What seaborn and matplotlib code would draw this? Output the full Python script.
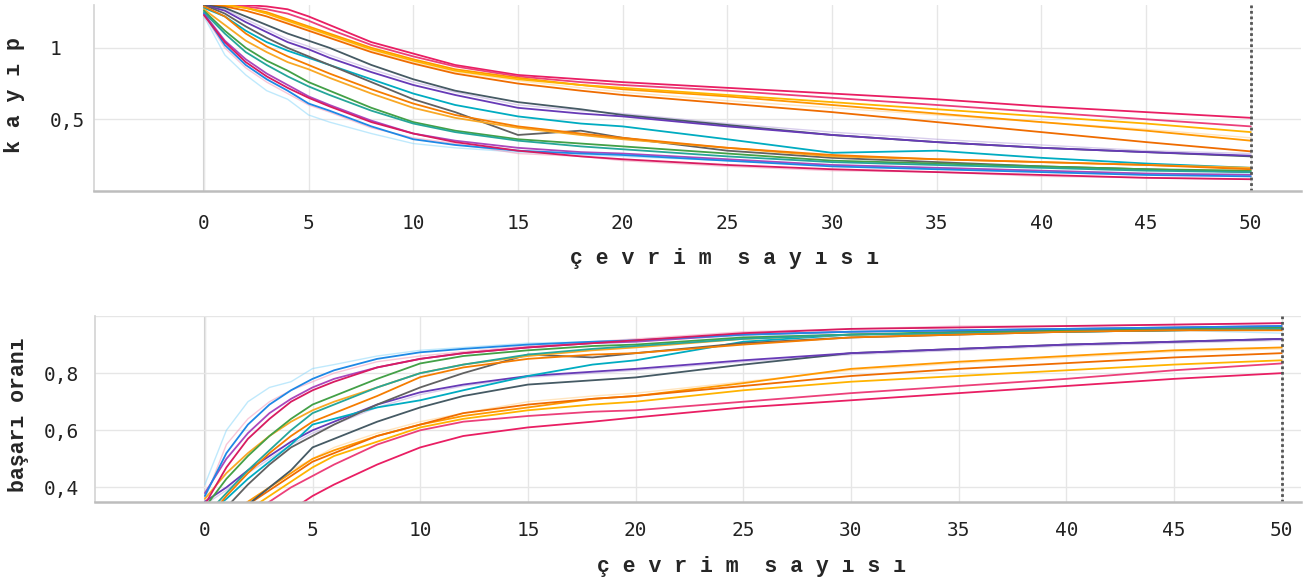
import matplotlib
matplotlib.use("Agg")
import matplotlib.pyplot as plt
import seaborn as sns
import pandas as pd

epochs = [0, 1, 2, 3, 4, 5, 6, 8, 10, 12, 15, 18, 20, 25, 30, 35, 40, 45, 50]

# --- loss (kayıp) per run ---
loss_pink1 = [1.30, 1.30, 1.30, 1.29, 1.27, 1.22, 1.16, 1.04, 0.96, 0.88, 0.81, 0.78, 0.76, 0.72, 0.68, 0.64, 0.59, 0.55, 0.51]
loss_pink2 = [1.30, 1.30, 1.29, 1.27, 1.24, 1.19, 1.13, 1.02, 0.94, 0.87, 0.80, 0.76, 0.74, 0.70, 0.65, 0.60, 0.55, 0.50, 0.45]
loss_orange = [1.30, 1.30, 1.28, 1.25, 1.20, 1.15, 1.10, 1.00, 0.92, 0.85, 0.79, 0.74, 0.71, 0.66, 0.60, 0.54, 0.48, 0.42, 0.35]
loss_amber = [1.30, 1.30, 1.28, 1.24, 1.19, 1.14, 1.09, 0.99, 0.91, 0.84, 0.78, 0.74, 0.72, 0.67, 0.62, 0.57, 0.52, 0.47, 0.41]
loss_dkorange = [1.30, 1.29, 1.26, 1.22, 1.17, 1.12, 1.07, 0.97, 0.89, 0.82, 0.75, 0.70, 0.67, 0.61, 0.55, 0.48, 0.41, 0.34, 0.275]
loss_slate = [1.30, 1.28, 1.22, 1.16, 1.10, 1.05, 1.00, 0.88, 0.78, 0.70, 0.62, 0.57, 0.53, 0.46, 0.39, 0.34, 0.30, 0.27, 0.24]
loss_purple = [1.30, 1.26, 1.18, 1.11, 1.04, 0.99, 0.93, 0.83, 0.74, 0.67, 0.58, 0.54, 0.52, 0.45, 0.39, 0.34, 0.30, 0.27, 0.245]
loss_cyan = [1.28, 1.22, 1.12, 1.04, 0.98, 0.93, 0.88, 0.78, 0.68, 0.60, 0.52, 0.47, 0.45, 0.36, 0.265, 0.28, 0.23, 0.19, 0.16]
loss_gray = [1.30, 1.24, 1.15, 1.07, 1.00, 0.94, 0.88, 0.76, 0.64, 0.55, 0.39, 0.42, 0.37, 0.28, 0.23, 0.20, 0.17, 0.15, 0.13]
loss_gold = [1.27, 1.16, 1.05, 0.97, 0.90, 0.85, 0.79, 0.68, 0.58, 0.51, 0.44, 0.39, 0.36, 0.30, 0.24, 0.22, 0.20, 0.18, 0.16]
loss_green = [1.26, 1.12, 1.00, 0.91, 0.84, 0.76, 0.70, 0.58, 0.48, 0.42, 0.36, 0.33, 0.31, 0.26, 0.21, 0.19, 0.17, 0.15, 0.14]
loss_teal = [1.25, 1.10, 0.97, 0.88, 0.80, 0.73, 0.67, 0.56, 0.47, 0.41, 0.35, 0.31, 0.29, 0.24, 0.20, 0.18, 0.16, 0.14, 0.13]
loss_magenta = [1.24, 1.05, 0.92, 0.82, 0.74, 0.66, 0.60, 0.49, 0.40, 0.35, 0.30, 0.27, 0.26, 0.22, 0.18, 0.16, 0.14, 0.12, 0.11]
loss_blue = [1.24, 1.02, 0.88, 0.78, 0.70, 0.61, 0.56, 0.45, 0.36, 0.32, 0.28, 0.26, 0.25, 0.21, 0.17, 0.15, 0.13, 0.11, 0.10]
loss_pink3 = [1.23, 1.04, 0.90, 0.80, 0.72, 0.65, 0.59, 0.48, 0.40, 0.34, 0.28, 0.24, 0.22, 0.18, 0.15, 0.13, 0.11, 0.09, 0.08]
loss_orange2 = [1.29, 1.22, 1.10, 1.01, 0.94, 0.88, 0.82, 0.71, 0.61, 0.53, 0.45, 0.40, 0.37, 0.30, 0.25, 0.22, 0.20, 0.18, 0.15]

# faint raw curves
loss_ltblue = [1.22, 0.95, 0.81, 0.70, 0.64, 0.53, 0.48, 0.40, 0.33, 0.30, 0.27, 0.25, 0.24, 0.21, 0.18, 0.16, 0.14, 0.12, 0.12]
loss_ltpink = [1.23, 1.00, 0.86, 0.76, 0.68, 0.60, 0.55, 0.44, 0.37, 0.33, 0.26, 0.24, 0.21, 0.17, 0.14, 0.13, 0.10, 0.09, 0.08]
loss_ltorange = [1.30, 1.30, 1.28, 1.24, 1.18, 1.13, 1.08, 0.98, 0.90, 0.83, 0.77, 0.72, 0.69, 0.63, 0.58, 0.53, 0.48, 0.43, 0.37]
loss_lavender = [1.30, 1.27, 1.20, 1.13, 1.06, 1.01, 0.95, 0.85, 0.76, 0.69, 0.60, 0.56, 0.54, 0.47, 0.41, 0.36, 0.32, 0.28, 0.26]

# --- accuracy (başarı oranı) per run ---
acc_pink1 = [0.15, 0.18, 0.22, 0.27, 0.32, 0.37, 0.41, 0.48, 0.54, 0.58, 0.61, 0.63, 0.645, 0.68, 0.705, 0.73, 0.755, 0.78, 0.80]
acc_pink2 = [0.20, 0.25, 0.30, 0.35, 0.40, 0.44, 0.48, 0.55, 0.60, 0.63, 0.65, 0.665, 0.67, 0.70, 0.73, 0.755, 0.78, 0.81, 0.834]
acc_orange = [0.25, 0.30, 0.35, 0.40, 0.45, 0.50, 0.53, 0.58, 0.62, 0.65, 0.68, 0.71, 0.72, 0.765, 0.815, 0.84, 0.86, 0.88, 0.89]
acc_amber = [0.22, 0.27, 0.32, 0.37, 0.42, 0.47, 0.51, 0.56, 0.61, 0.64, 0.67, 0.69, 0.70, 0.74, 0.77, 0.79, 0.81, 0.83, 0.845]
acc_dkorange = [0.24, 0.29, 0.34, 0.39, 0.44, 0.49, 0.52, 0.58, 0.62, 0.66, 0.69, 0.71, 0.72, 0.755, 0.79, 0.815, 0.835, 0.855, 0.87]
acc_slate = [0.22, 0.28, 0.34, 0.40, 0.46, 0.54, 0.57, 0.63, 0.68, 0.72, 0.76, 0.775, 0.785, 0.83, 0.87, 0.885, 0.90, 0.91, 0.92]
acc_purple = [0.35, 0.40, 0.46, 0.51, 0.56, 0.60, 0.63, 0.69, 0.733, 0.76, 0.79, 0.805, 0.815, 0.845, 0.87, 0.885, 0.90, 0.91, 0.92]
acc_cyan = [0.30, 0.36, 0.43, 0.49, 0.55, 0.62, 0.64, 0.68, 0.705, 0.74, 0.79, 0.83, 0.845, 0.91, 0.935, 0.94, 0.945, 0.95, 0.955]
acc_gray = [0.25, 0.33, 0.41, 0.48, 0.54, 0.58, 0.62, 0.69, 0.75, 0.80, 0.865, 0.855, 0.87, 0.905, 0.925, 0.935, 0.945, 0.95, 0.955]
acc_gold = [0.36, 0.45, 0.52, 0.58, 0.63, 0.67, 0.70, 0.75, 0.80, 0.83, 0.86, 0.88, 0.89, 0.92, 0.935, 0.94, 0.95, 0.955, 0.96]
acc_green = [0.33, 0.43, 0.51, 0.58, 0.64, 0.69, 0.72, 0.78, 0.834, 0.86, 0.88, 0.895, 0.90, 0.925, 0.935, 0.945, 0.95, 0.955, 0.96]
acc_teal = [0.30, 0.38, 0.46, 0.53, 0.60, 0.66, 0.69, 0.75, 0.80, 0.83, 0.865, 0.885, 0.895, 0.92, 0.935, 0.94, 0.945, 0.95, 0.955]
acc_magenta = [0.38, 0.50, 0.59, 0.66, 0.71, 0.75, 0.78, 0.82, 0.85, 0.87, 0.89, 0.905, 0.91, 0.935, 0.945, 0.95, 0.955, 0.96, 0.965]
acc_blue = [0.37, 0.52, 0.62, 0.69, 0.74, 0.78, 0.81, 0.85, 0.873, 0.885, 0.90, 0.91, 0.915, 0.935, 0.945, 0.95, 0.955, 0.96, 0.965]
acc_pink3 = [0.34, 0.47, 0.57, 0.64, 0.70, 0.74, 0.77, 0.82, 0.85, 0.87, 0.89, 0.905, 0.915, 0.94, 0.955, 0.96, 0.965, 0.97, 0.975]
acc_orange2 = [0.28, 0.37, 0.45, 0.52, 0.58, 0.63, 0.66, 0.72, 0.786, 0.82, 0.85, 0.865, 0.87, 0.90, 0.925, 0.935, 0.945, 0.95, 0.95]

acc_ltblue = [0.41, 0.60, 0.70, 0.75, 0.77, 0.816, 0.83, 0.86, 0.88, 0.89, 0.905, 0.91, 0.915, 0.93, 0.935, 0.94, 0.945, 0.95, 0.94]
acc_ltpink = [0.36, 0.55, 0.64, 0.70, 0.74, 0.77, 0.80, 0.84, 0.86, 0.875, 0.895, 0.91, 0.92, 0.945, 0.955, 0.965, 0.965, 0.97, 0.975]
acc_ltorange = [0.24, 0.29, 0.35, 0.40, 0.46, 0.50, 0.54, 0.59, 0.63, 0.66, 0.70, 0.72, 0.73, 0.77, 0.81, 0.835, 0.855, 0.875, 0.885]
acc_lavender = [0.34, 0.39, 0.45, 0.50, 0.55, 0.59, 0.62, 0.68, 0.725, 0.755, 0.785, 0.80, 0.81, 0.84, 0.865, 0.88, 0.895, 0.905, 0.915]

main_colors = {
    "pink1": "#e91e63", "pink2": "#ec407a", "orange": "#ff9800", "amber": "#ffb300",
    "dkorange": "#ef6c00", "slate": "#455a64", "purple": "#673ab7", "cyan": "#00acc1",
    "gray": "#616161", "gold": "#f9a825", "green": "#43a047", "teal": "#26a69a",
    "magenta": "#ab47bc", "blue": "#1e88e5", "pink3": "#d81b60", "orange2": "#f57c00",
}
faint_colors = {"ltblue": "#81d4fa", "ltpink": "#f48fb1", "ltorange": "#ffcc80", "lavender": "#b39ddb"}

g = globals()


def long_table(prefix, names):
    rows = []
    for n in names:
        for e, v in zip(epochs, g[prefix + n]):
            rows.append({"run": n, "epoch": e, "value": v})
    return pd.DataFrame(rows)


sns.set_theme(style="white")
plt.rcParams["font.family"] = ["DejaVu Sans Mono", "DejaVu Sans"]

fig = plt.figure(figsize=(13.09, 5.82), dpi=100)
ax1 = fig.add_axes([0.0718, 0.6724, 0.9221, 0.319])
ax2 = fig.add_axes([0.0726, 0.138, 0.9213, 0.319])

label_font = dict(family=["Liberation Mono", "DejaVu Sans Mono"], weight="bold", size=15.5)

for ax, prefix, xlim, ylim, yticks, ylabels, ylab in [
    (ax1, "loss_", (-5.25, 52.4), (0, 1.3), [0.5, 1.0], ["0,5", "1"], "k a y ı p"),
    (ax2, "acc_", (-5.1, 50.9), (0.35, 1.0), [0.4, 0.6, 0.8, 1.0], ["0,4", "0,6", "0,8", ""], "başarı oranı"),
]:
    sns.lineplot(data=long_table(prefix, faint_colors), x="epoch", y="value", hue="run",
                 palette=faint_colors, linewidth=1.0, alpha=0.5, legend=False, ax=ax)
    sns.lineplot(data=long_table(prefix, main_colors), x="epoch", y="value", hue="run",
                 palette=main_colors, linewidth=1.3, legend=False, ax=ax)
    ax.set_xlim(*xlim)
    ax.set_ylim(*ylim)
    ax.set_xticks(range(0, 51, 5))
    ax.set_yticks(yticks)
    ax.set_yticklabels(ylabels)
    ax.grid(True, color="#e6e6e6", linewidth=1.0)
    ax.set_axisbelow(True)
    ax.axvline(0, color="#cfcfcf", linewidth=1.5, zorder=0.5)
    ax.axvline(50, color="#555555", linestyle=(0, (1, 1)), linewidth=2.0)
    for side in ["top", "right"]:
        ax.spines[side].set_visible(False)
    ax.spines["left"].set_color("#d5d5d5")
    ax.spines["bottom"].set_color("#bdbdbd")
    ax.spines["bottom"].set_linewidth(1.8)
    ax.tick_params(axis="both", length=0, labelsize=14, colors="#222222")
    for t in ax.get_yticklabels():
        t.set_horizontalalignment("left")
    ax.set_xlabel("ç e v r i m  s a y ı s ı", **label_font)
    ax.set_ylabel(ylab, **label_font)
    ax.yaxis.label.set_verticalalignment("center")

ax1.tick_params(axis="x", pad=17)
ax1.tick_params(axis="y", pad=32)
ax2.tick_params(axis="x", pad=14)
ax2.tick_params(axis="y", pad=37)
ax1.xaxis.set_label_coords(0.522, -0.31)
ax1.yaxis.set_label_coords(-0.066, 0.515)
ax2.xaxis.set_label_coords(0.544, -0.29)
ax2.yaxis.set_label_coords(-0.0635, 0.467)

fig.savefig("out.png", dpi=100)
